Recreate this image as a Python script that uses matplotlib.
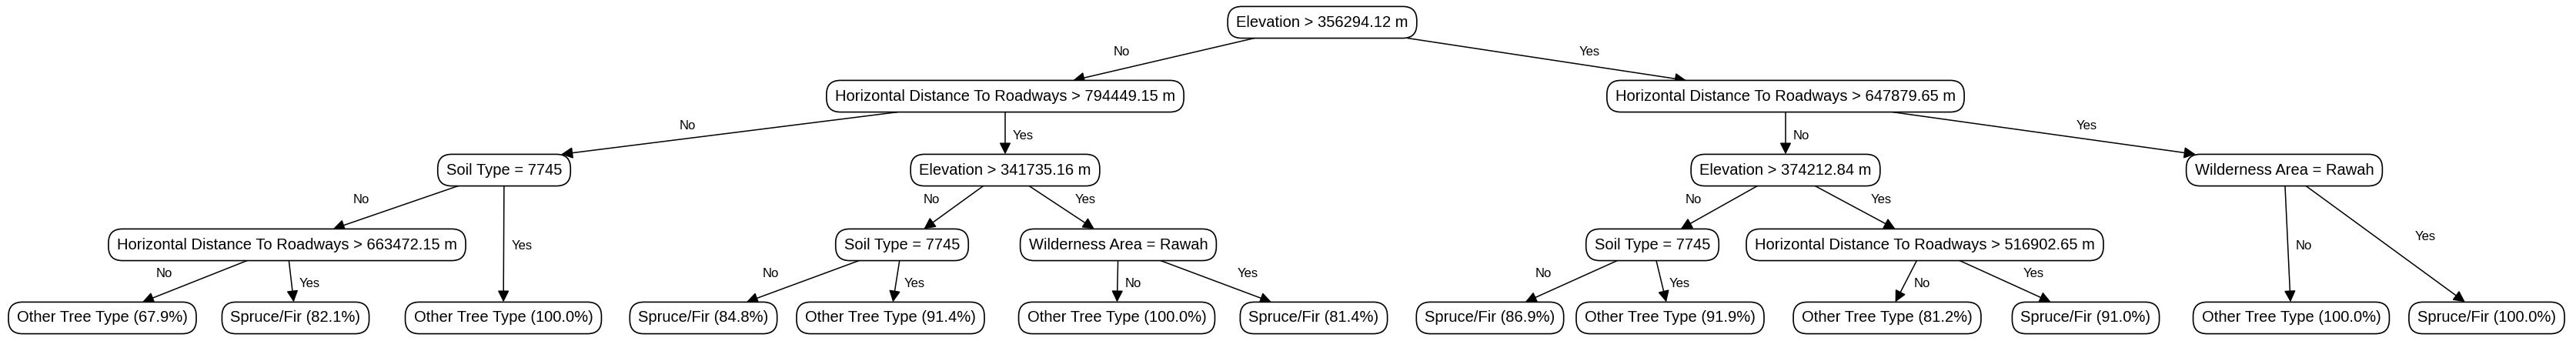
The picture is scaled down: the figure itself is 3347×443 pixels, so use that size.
import matplotlib
matplotlib.use("Agg")
import matplotlib.pyplot as plt
from matplotlib.patches import FancyArrowPatch
import numpy as np

plt.rcParams['font.family'] = ['Liberation Sans', 'DejaVu Sans']

# node: id -> (label, x center, level)
node_ids = ["r", "a", "b", "a1", "a2", "b1", "b2", "a11", "a21", "a22", "b11", "b12", "b21", "b22",
            "l1", "l2", "l3", "l4", "l5", "l6", "l7", "l8", "l9", "l10", "l11", "l12", "l13"]
node_labels = {
    "r": "Elevation > 356294.12 m",
    "a": "Horizontal Distance To Roadways > 794449.15 m",
    "b": "Horizontal Distance To Roadways > 647879.65 m",
    "a1": "Soil Type = 7745",
    "a2": "Elevation > 341735.16 m",
    "b1": "Elevation > 374212.84 m",
    "b2": "Wilderness Area = Rawah",
    "a11": "Horizontal Distance To Roadways > 663472.15 m",
    "a21": "Soil Type = 7745",
    "a22": "Wilderness Area = Rawah",
    "b11": "Soil Type = 7745",
    "b12": "Horizontal Distance To Roadways > 516902.65 m",
    "l1": "Other Tree Type (67.9%)",
    "l2": "Spruce/Fir (82.1%)",
    "l3": "Other Tree Type (100.0%)",
    "l4": "Spruce/Fir (84.8%)",
    "l5": "Other Tree Type (91.4%)",
    "l6": "Other Tree Type (100.0%)",
    "l7": "Spruce/Fir (81.4%)",
    "l8": "Spruce/Fir (86.9%)",
    "l9": "Other Tree Type (91.9%)",
    "l10": "Other Tree Type (81.2%)",
    "l11": "Spruce/Fir (91.0%)",
    "l12": "Other Tree Type (100.0%)",
    "l13": "Spruce/Fir (100.0%)",
    "b21": None, "b22": None,
}
node_x = {"r": 1718, "a": 1306, "b": 2320, "a1": 655, "a2": 1306, "b1": 2320, "b2": 2968,
          "a11": 373, "a21": 1172, "a22": 1453, "b11": 2147, "b12": 2501,
          "l1": 133, "l2": 384, "l3": 654, "l4": 914, "l5": 1157, "l6": 1451, "l7": 1707,
          "l8": 1936, "l9": 2170, "l10": 2452, "l11": 2710, "l12": 2977, "l13": 3231}
node_level = {"r": 0, "a": 1, "b": 1, "a1": 2, "a2": 2, "b1": 2, "b2": 2,
              "a11": 3, "a21": 3, "a22": 3, "b11": 3, "b12": 3, "l3": 3, "l12": 4, "l13": 4,
              "l1": 4, "l2": 4, "l4": 4, "l5": 4, "l6": 4, "l7": 4, "l8": 4, "l9": 4, "l10": 4, "l11": 4}
node_level["l12"] = 4; node_level["l13"] = 4; node_level["l3"] = 4
edges = [("r", "a", "No"), ("r", "b", "Yes"),
         ("a", "a1", "No"), ("a", "a2", "Yes"),
         ("b", "b1", "No"), ("b", "b2", "Yes"),
         ("a1", "a11", "No"), ("a1", "l3", "Yes"),
         ("a2", "a21", "No"), ("a2", "a22", "Yes"),
         ("b1", "b11", "No"), ("b1", "b12", "Yes"),
         ("b2", "l12", "No"), ("b2", "l13", "Yes"),
         ("a11", "l1", "No"), ("a11", "l2", "Yes"),
         ("a21", "l4", "No"), ("a21", "l5", "Yes"),
         ("a22", "l6", "No"), ("a22", "l7", "Yes"),
         ("b11", "l8", "No"), ("b11", "l9", "Yes"),
         ("b12", "l10", "No"), ("b12", "l11", "Yes")]

level_y = [29, 125, 221, 318, 413]

W, H = 3347, 443
fig = plt.figure(figsize=(W / 100, H / 100), dpi=100)
ax = fig.add_axes([0, 0, 1, 1])
ax.set_xlim(0, W)
ax.set_ylim(H, 0)
ax.axis("off")

texts = {}
for nid in node_ids:
    lab = node_labels.get(nid)
    if lab is None:
        continue
    x = node_x[nid]
    y = level_y[node_level[nid]]
    t = ax.text(x, y, lab, ha="center", va="center", fontsize=14.5, color="black",
                bbox=dict(boxstyle="round,pad=0.55,rounding_size=0.9", fc="white", ec="black", lw=1.2),
                zorder=3)
    texts[nid] = t

fig.canvas.draw()
inv = ax.transData.inverted()
boxes = {}
for nid, t in texts.items():
    bb = t.get_bbox_patch().get_window_extent()
    (x0, y0), (x1, y1) = inv.transform([[bb.x0, bb.y0], [bb.x1, bb.y1]])
    boxes[nid] = (min(x0, x1), max(x0, x1), min(y0, y1), max(y0, y1))

for p, c, lab in edges:
    px0, px1, py0, py1 = boxes[p]
    cx0, cx1, cy0, cy1 = boxes[c]
    pc = np.array([(px0 + px1) / 2, (py0 + py1) / 2])
    cc = np.array([(cx0 + cx1) / 2, (cy0 + cy1) / 2])
    d = cc - pc
    # start at bottom of parent along center line (clipped to parent width)
    t0 = (py1 - pc[1]) / d[1]
    sx = pc[0] + d[0] * t0
    hw = (px1 - px0) / 2 - 12
    sx = np.clip(sx, pc[0] - hw, pc[0] + hw)
    start = np.array([sx, py1])
    t1 = (cy0 - pc[1]) / d[1]
    ex = pc[0] + d[0] * t1
    chw = (cx1 - cx0) / 2 - 12
    ex = np.clip(ex, cc[0] - chw, cc[0] + chw)
    end = np.array([ex, cy0])
    arr = FancyArrowPatch(start, end, arrowstyle="-|>,head_length=9,head_width=4.5",
                          color="black", lw=1.1, shrinkA=0, shrinkB=0, zorder=2)
    ax.add_patch(arr)
    mid = (start + end) / 2
    dx = end[0] - start[0]
    if abs(dx) < 40:
        ax.text(mid[0] + 10, mid[1] + 3, lab, ha="left", va="center", fontsize=12)
    else:
        off = min(55, abs(dx) * 0.18 + 15)
        sgn = np.sign(dx)
        ax.text(mid[0] + sgn * off, mid[1] - 10, lab, ha="center", va="center", fontsize=12)

fig.savefig("out.png", dpi=100, facecolor="white")
